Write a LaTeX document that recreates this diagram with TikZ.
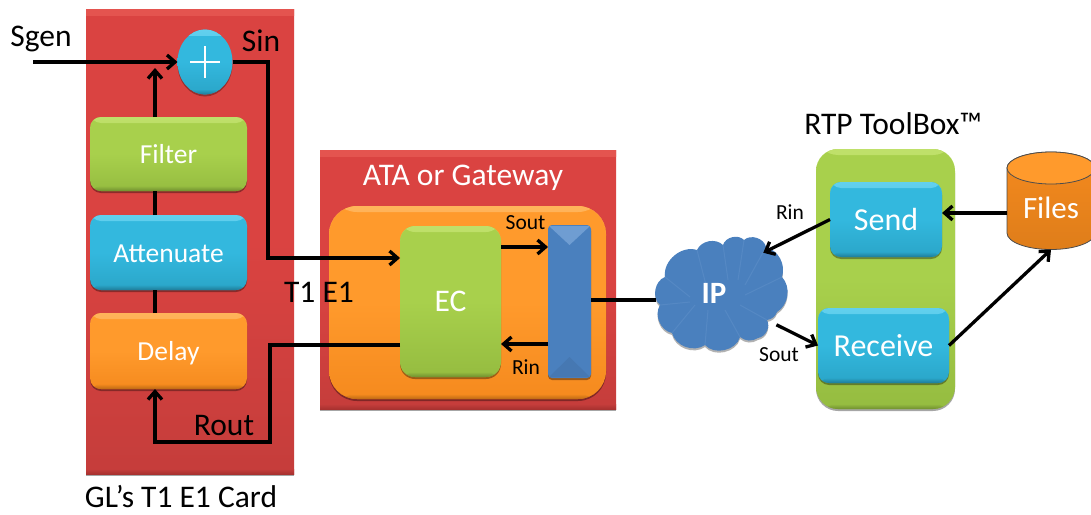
\documentclass[tikz,border=0pt]{standalone}
\usepackage{fontspec}
\setmainfont{Carlito}
\usetikzlibrary{arrows.meta,shadows,shapes.geometric,calc}
\definecolor{redL}{HTML}{E4544F}\definecolor{redT}{HTML}{DA4341}\definecolor{redB}{HTML}{C53D3B}\definecolor{redD}{HTML}{A83230}
\definecolor{grnL}{HTML}{BFE06A}\definecolor{grnT}{HTML}{A8D04C}\definecolor{grnB}{HTML}{95BC40}\definecolor{grnD}{HTML}{708F30}
\definecolor{bluL}{HTML}{62D0EE}\definecolor{bluT}{HTML}{33B8DE}\definecolor{bluB}{HTML}{2AA5C8}\definecolor{bluD}{HTML}{1E7C98}
\definecolor{orgL}{HTML}{FFB45A}\definecolor{orgT}{HTML}{FF9A2C}\definecolor{orgB}{HTML}{F58A1E}\definecolor{orgD}{HTML}{BC6A14}
\definecolor{barM}{HTML}{4A80BE}\definecolor{barL}{HTML}{6F9DD2}\definecolor{barD}{HTML}{416FA6}
\tikzset{
  x=1pt,y=-1pt,
  bevel/.style={top color=#1T,bottom color=#1B,middle color=#1T,
    path picture={
      \shade[top color=#1L,bottom color=#1T] (path picture bounding box.north west) rectangle ([yshift=-6pt]path picture bounding box.north east);
      \shade[top color=#1B,bottom color=#1D] ([yshift=5pt]path picture bounding box.south west) rectangle (path picture bounding box.south east);
    }},
  panel/.style={rectangle,inner sep=0pt,outer sep=0pt,font=\fontsize{27.5}{30}\selectfont,text=white,
    drop shadow={shadow xshift=0pt,shadow yshift=-2pt,opacity=.35,fill=black}},
  bluebox/.style={panel,bevel=blu,rounded corners=11pt},
  greenbox/.style={panel,bevel=grn,rounded corners=11pt},
  orangebox/.style={panel,bevel=org,rounded corners=11pt},
  redbox/.style={panel,bevel=red},
  lowtext/.style={text height=25pt,text depth=6pt},
  big/.style={font=\fontsize{31.5}{34}\selectfont,text=black,inner sep=0pt},
  small/.style={font=\fontsize{21.5}{24}\selectfont,text=black,inner sep=0pt},
  wire/.style={line width=3.3pt,black,line join=miter},
  arr/.style={wire,-{Straight Barb[length=8pt,width=14pt,line width=3.3pt]}},
}
\begin{document}
\begin{tikzpicture}
\useasboundingbox (0,0) rectangle (1091,514);
\clip (0,0) rectangle (1091,514);
% panels
\node[redbox,minimum width=208pt,minimum height=465pt] (card) at (190,241.5) {};
\node[redbox,minimum width=296pt,minimum height=259pt] (ata) at (468,279.5) {};
\node[orangebox,rounded corners=28pt,minimum width=277pt,minimum height=193pt] (inner) at (467.5,302.5) {};
\node[greenbox,rounded corners=22pt,minimum width=139pt,minimum height=260pt] (rtp) at (885.5,279) {};
% boxes in card
\node[greenbox,lowtext,minimum width=157pt,minimum height=74pt] (filter) at (168.5,154) {Filter};
\node[bluebox,lowtext,minimum width=157pt,minimum height=75pt] (att) at (168.5,252.5) {Attenuate};
\node[orangebox,lowtext,minimum width=157pt,minimum height=76pt] (delay) at (168.5,351) {Delay};
\node[ellipse,inner sep=0pt,outer sep=0pt,minimum width=55pt,minimum height=65pt,bevel=blu,
  drop shadow={shadow xshift=0pt,shadow yshift=-2pt,opacity=.3,fill=black}] (sum) at (205,62) {};
\draw[white,line width=2.8pt] ($(sum)+(-15,0)$) -- ($(sum)+(15,0)$) ($(sum)+(0,-16)$) -- ($(sum)+(0,16)$);
% inner boxes
\node[greenbox,rounded corners=15pt,minimum width=101pt,minimum height=151pt,font=\fontsize{31.5}{34}\selectfont] (ec) at (450.5,301.5) {EC};
\node[rectangle,inner sep=0pt,outer sep=0pt,rounded corners=4pt,fill=barM,minimum width=43pt,minimum height=153pt,
  drop shadow={shadow xshift=0pt,shadow yshift=-2pt,opacity=.35,fill=black}] (bar) at (569.5,301.5) {};
\fill[barL] ($(bar.north west)+(1,1)$) -- ($(bar.north east)+(-1,1)$) -- ($(bar.north)+(0,20)$) -- cycle;
\fill[barD!50!barM] ($(bar.south west)+(1,-1)$) -- ($(bar.south east)+(-1,-1)$) -- ($(bar.south)+(0,-21)$) -- cycle;
% toolbox
\node[bluebox,minimum width=112pt,minimum height=75pt,font=\fontsize{32}{34}\selectfont] (send) at (886,219.5) {Send};
\node[bluebox,minimum width=131pt,minimum height=75pt,font=\fontsize{32}{34}\selectfont] (recv) at (883.5,345.5) {Receive};
% files cylinder
\path[top color=orgB,bottom color=orgD!40!orgB,draw=black!70,line width=.8pt]
  (1007,168) arc[start angle=180,end angle=360,x radius=44,y radius=16]
  -- (1095,233) arc[start angle=0,end angle=180,x radius=44,y radius=16.5] -- cycle;
\path[fill=orgT,draw=black!70,line width=.8pt] (1051,168) ellipse[x radius=44,y radius=16];
\node[rectangle,inner sep=0pt,outer sep=0pt,minimum width=88pt,minimum height=83pt,text=white,
  font=\fontsize{31}{34}\selectfont] (files) at (1051,208) {Files};
\coordinate (filesw) at (1007,213);
% cloud
\path[fill=barM,drop shadow={shadow xshift=0pt,shadow yshift=-2pt,opacity=.3,fill=black}]
 (660,305) to[bend left=60] (665,277)
 to[bend left=58] (697,250)
 to[bend left=55] (723,245)
 to[bend left=60] (744,240)
 to[bend left=60] (766,247)
 to[bend left=45] (782,277)
 to[bend left=50] (777,312)
 to[bend left=30] (767,320)
 to[bend left=55] (758,338)
 to[bend left=35] (740,337)
 to[bend left=62] (705,345)
 to[bend left=55] (672,333)
 to[bend left=55] (660,305) -- cycle;
\begin{scope}[draw=barL,line width=1pt,opacity=.3]
 \draw (665,277) -- (690,297); \draw (697,250) -- (706,285); \draw (723,245) -- (728,280);
 \draw (744,240) -- (738,280); \draw (766,247) -- (745,285); \draw (782,277) -- (745,295);
 \draw (660,305) -- (690,302); \draw (672,333) -- (695,305); \draw (705,345) -- (708,310);
 \draw (740,337) -- (725,310); \draw (767,320) -- (740,305);
\end{scope}
\node[ellipse,inner sep=0pt,outer sep=0pt,minimum width=130pt,minimum height=116pt] (ip) at (720,296) {};
\node[text=white,inner sep=0pt,font=\fontsize{31}{34}\selectfont\bfseries] (iplabel) at (714,293) {IP};
% labels
\node[big] (lsgen) at (41,39) {Sgen};
\node[big] (lsin) at (261,41) {Sin};
\node[big] (lrout) at (224,426) {Rout};
\node[big] (lt1) at (319,292) {T1 E1};
\node[big] (lcard) at (181,497) {GL’s T1 E1 Card};
\node[big,text=white] (lata) at (463,178) {ATA or Gateway};
\node[small] (lsout) at (525.5,223) {Sout};
\node[small] (lrin) at (526,367) {Rin};
\node[small] (lrin2) at (790,212) {Rin};
\node[small] (lsout2) at (779,355) {Sout};
\node[big] (lrtp) at (893,124) {RTP ToolBox™};
% connectors
\coordinate (sgenstart) at (33,62);
\draw[arr] (sgenstart) -- (sum.west);
\draw[arr] (filter.north -| 155,0) -- (155,68);
\draw[wire] (att.north -| 155,0) -- (filter.south -| 155,0);
\draw[wire] (delay.north -| 155,0) -- (att.south -| 155,0);
\coordinate (sinc) at (268,62);
\coordinate (sind) at (268,258);
\draw[arr] (sum.east) -- (sinc) -- (sind) -- (sind -| ec.west);
\coordinate (routa) at (270,345);
\coordinate (routb) at (270,442);
\coordinate (routc) at (155,442);
\draw[arr] (routa -| ec.west) -- (routa) -- (routb) -- (routc) -- (routc |- delay.south);
\coordinate (sout) at (501,247);
\draw[arr] (sout) -- (sout -| bar.west);
\coordinate (rin) at (548,344);
\draw[arr] (rin) -- (rin -| ec.east);
\coordinate (barout) at (591,300);
\draw[wire] (barout) -- (656,300);
\draw[arr] (send.west) -- (ip.45);
\draw[arr] (ip.-27) -- (recv.west);
\draw[arr] (filesw) -- (filesw -| send.east);
\draw[arr] (recv.east) -- (files.south);
\end{tikzpicture}
\end{document}
